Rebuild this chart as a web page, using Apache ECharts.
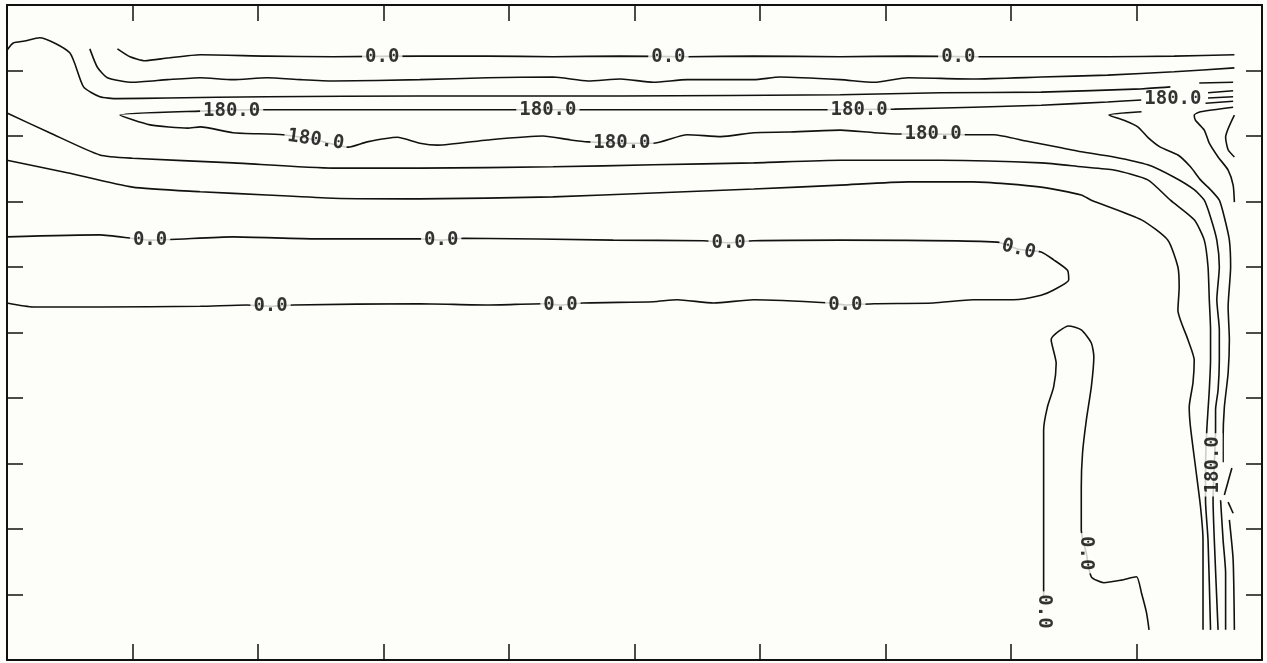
<!DOCTYPE html>
<html>
<head>
<meta charset="utf-8">
<script src="https://cdn.jsdelivr.net/npm/echarts@6/dist/echarts.min.js"></script>
<style>
  html, body { margin: 0; padding: 0; background: #fdfdf9; }
  #main { width: 1267px; height: 663px; }
</style>
</head>
<body>
<div id="main"></div>
<script>
// contour pieces, [x, y] in plot units (x 0..100, y 0..100)
var topZero = [[8.8,93.3],[9.8,92.1],[11.0,91.5],[12.8,91.9],[15.4,92.4],[20.7,92.2],[26.0,92.1],[32.9,92.2],[38.3,92.2],[43.5,92.1],[48.9,92.2],[54.2,92.1],[59.5,92.2],[66.4,92.1],[71.8,92.2],[77.0,92.1],[82.4,92.1],[87.7,92.1],[93.0,92.2],[97.8,92.4]];
var lineB = [[6.6,93.3],[7.2,90.5],[8.0,88.9],[10.0,88.2],[12.8,88.6],[15.4,88.9],[18.0,88.6],[20.7,88.9],[23.4,88.6],[26.0,88.4],[32.9,88.6],[38.3,88.9],[43.5,89.0],[46.3,88.4],[48.9,88.7],[51.5,88.2],[54.2,88.6],[59.5,88.6],[61.6,89.0],[66.4,88.6],[69.1,88.2],[71.8,88.9],[77.0,88.7],[82.4,89.0],[87.7,89.3],[93.0,89.8],[97.8,90.4]];
var lineA = [[0,93.1],[0.5,94.2],[1.4,94.5],[2.6,95.0],[5.0,92.7],[6.1,87.5],[7.4,86.0],[8.8,85.7],[12.8,85.8],[20.7,86.0],[32.9,86.1],[48.9,86.1],[66.4,86.3],[74.4,86.6],[82.4,86.7],[90.4,87.2],[92.7,87.5]];
var fold180 = [[90.4,85.5],[87.7,85.2],[82.4,84.7],[77.0,84.4],[70.7,84.1],[65.6,84.0],[55.3,84.0],[45.5,84.0],[40.7,84.0],[32.9,84.0],[20.7,84.0],[15.4,83.8],[9.0,83.2],
  [11.4,81.7],[14.4,81.2],[15.4,81.4],[18.0,80.5],[22.0,80.2],[24.6,79.4],[27.2,78.3],[28.7,79.1],[31.1,79.8],[32.9,78.9],[34.3,78.6],[38.3,79.4],[42.7,80.0],[44.9,79.4],[46.3,79.1],[49.0,78.9],[51.5,78.9],[54.2,80.2],[56.9,79.9],[59.5,80.5],[62.2,80.6],[66.4,80.9],[69.1,80.5],[71.2,80.3],[73.8,80.3],[76.6,80.2],[78.6,80.2],[81.3,79.2],[84.0,78.2],[85.6,77.6],[88.2,76.8],[90.9,75.6],[93.0,73.7],[94.6,71.8],[95.4,70.2],[95.9,67.6],[96.4,64.1],[96.6,60.0],[96.4,55.0],[96.6,50.4],[96.6,45.8],[96.5,41.2],[96.3,38.2],[96.3,35.1],[96.2,29.8],[96.1,24.4],[96.2,18.3],[96.5,4.6]];
var lineE = [[0,83.5],[3.4,80.5],[7.4,77.1],[10.0,76.6],[18.0,75.9],[26.0,75.1],[32.9,75.1],[43.5,75.3],[51.5,75.6],[59.5,75.9],[66.4,76.3],[74.4,76.3],[82.4,75.9],[85.6,75.3],[88.2,74.8],[90.9,73.3],[92.7,70.2],[94.6,67.2],[95.4,64.1],[95.7,60.0],[95.8,55.0],[95.9,50.4],[95.9,45.8],[95.8,41.2],[95.7,38.2],[95.6,35.1],[95.5,29.8],[95.5,24.4],[95.7,18.3],[95.9,4.6]];
var lineF = [[0,76.3],[4.8,74.4],[10.0,72.2],[15.4,71.5],[20.7,71.0],[26.0,70.5],[32.9,70.4],[43.5,70.7],[51.5,71.3],[59.5,71.9],[66.4,72.5],[71.8,73.0],[77.0,73.0],[82.4,72.2],[85.6,71.0],[86.4,70.2],[90.4,67.2],[92.5,64.1],[93.3,60.0],[93.4,56.9],[93.3,53.4],[94.1,48.9],[94.6,45.8],[94.5,42.3],[94.2,38.6],[94.3,35.6],[94.7,29.5],[95.1,23.4],[95.3,18.3],[95.3,4.6]];
var vBranch = [[90.4,83.7],[87.8,83.2],[89.0,82.4],[90.1,81.4],[90.9,79.8],[91.9,78.3],[93.3,77.1],[94.3,75.3],[95.1,73.3],[95.9,71.8],[96.6,70.2],[97.0,67.6],[97.4,64.1],[97.5,60.0],[97.3,53.9],[97.4,48.9],[97.3,43.8],[97.0,38.6],[96.9,33.6],[96.9,30.2]];
var vBranchLow = [[96.7,24.4],[96.9,18.3],[97.1,13.3],[97.1,4.6]];
var vDiag = [[97.6,29.3],[97.0,25.2]];
var lineG = [[97.7,84.4],[95.1,83.7],[94.6,83.2],[94.7,82.4],[95.4,80.9],[95.8,78.9],[96.5,76.8],[97.3,74.8],[97.7,72.5],[97.8,69.9]];
var lineH = [[97.8,83.2],[97.1,79.8],[97.3,77.9],[97.8,76.8]];
var stub1 = [[95.0,88.1],[97.7,88.2]];
var stub2 = [[95.7,86.6],[97.7,86.9]];
var stub3 = [[95.7,85.8],[97.7,86.0]];
var stub4 = [[95.5,85.0],[97.7,85.3]];
var edgeShort = [[97.3,24.1],[97.7,22.4]];
var edgeLow = [[97.4,21.4],[97.7,15.3],[97.8,4.6]];
var zeroLoop = [[91.0,4.6],[90.8,7.2],[90.4,10.2],[90.0,12.7],[88.8,12.2],[87.4,11.8],[86.4,12.7],[86.0,16.3],[85.6,19.8],[85.6,26.4],[85.7,31.6],[86.0,36.6],[86.4,41.7],[86.6,46.3],[86.4,48.4],[85.6,50.4],[84.6,51.0],[83.2,48.9],[83.6,45.3],[83.4,41.7],[82.9,38.6],[82.6,35.1],[82.6,29.0],[82.6,21.4],[82.6,12.2],[82.6,9.5]];
var midZero = [[0,64.6],[7.4,64.9],[11.4,64.1],[18.0,64.6],[24.7,64.3],[32.9,64.3],[34.6,64.1],[36.4,64.4],[48.3,64.1],[55.5,64.0],[57.5,63.7],[59.5,64.0],[66.4,64.1],[78.9,63.8],[80.6,62.7],[82.4,62.3],[83.4,61.1],[84.5,59.5],[84.6,58.0],[83.4,56.5],[82.4,55.7],[80.2,55.0],[77.0,55.0],[73.8,54.5],[69.1,54.4],[66.8,54.2],[65.6,54.5],[59.5,55.0],[56.3,54.5],[53.4,55.0],[51.5,54.7],[45.9,54.5],[44.1,54.2],[42.7,54.4],[38.3,54.2],[32.9,54.4],[22.8,54.2],[21.0,54.0],[19.1,54.2],[15.4,54.0],[7.4,53.9],[2.1,53.9],[0,54.5]];

var pieces = [topZero, lineB, lineA, fold180, lineE, lineF, vBranch, vBranchLow, vDiag, lineG, lineH,
  stub1, stub2, stub3, stub4, edgeShort, edgeLow, zeroLoop, midZero];

// contour labels: x, y, text, angle
var labelsZero = [[29.9,92.1,'0.0',0],[52.7,92.1,'0.0',0],[75.8,92.1,'0.0',0],
  [11.4,64.1,'0.0',0],[34.6,64.1,'0.0',0],[57.5,63.7,'0.0',0],[80.6,62.7,'0.0',-14],
  [21.0,54.0,'0.0',0],[44.1,54.2,'0.0',0],[66.8,54.2,'0.0',0],
  [86.0,16.3,'0.0',-90],[82.6,7.4,'0.0',-90]];
var labels180 = [[17.9,83.8,'180.0',0],[43.1,84.0,'180.0',0],[67.9,84.0,'180.0',0],[92.9,85.6,'180.0',0],
  [24.6,79.4,'180.0',-8],[49.0,78.9,'180.0',0],[73.8,80.3,'180.0',0],
  [96.1,29.8,'180.0',90]];

var bg = '#fdfdf9';
var ink = '#111';

var series = [];
for (var i = 0; i < pieces.length; i++) {
  series.push({
    type: 'line',
    data: pieces[i],
    symbol: 'none',
    smooth: 0.2,
    lineStyle: { color: ink, width: 1.6 },
    z: 2,
    silent: true
  });
}

var labelData = [];
labelsZero.concat(labels180).forEach(function (d) {
  labelData.push({
    value: [d[0], d[1]],
    name: d[2],
    label: { rotate: d[3] }
  });
});
series.push({
  type: 'scatter',
  data: labelData,
  symbolSize: 2,
  itemStyle: { color: 'rgba(0,0,0,0)' },
  z: 5,
  silent: true,
  label: {
    show: true,
    position: 'inside',
    formatter: function (p) { return p.name; },
    fontFamily: 'DejaVu Sans Mono',
    fontWeight: 'bold',
    fontSize: 19,
    color: '#000',
    backgroundColor: bg,
    padding: [0, 3]
  }
});

function axisBase(pos) {
  return {
    type: 'value', min: 0, max: 100, interval: 10, position: pos,
    axisLine: { show: true, onZero: false, lineStyle: { color: ink, width: 2 } },
    axisTick: { show: true, inside: true, length: 16, lineStyle: { color: ink, width: 1.5 } },
    axisLabel: { show: false },
    splitLine: { show: false }
  };
}

var chart = echarts.init(document.getElementById('main'));
chart.setOption({
  animation: false,
  backgroundColor: bg,
  grid: { left: 7, right: 5, top: 5, bottom: 3 },
  xAxis: [axisBase('bottom'), axisBase('top')],
  yAxis: [axisBase('left'), axisBase('right')],
  series: series
});
</script>
</body>
</html>
